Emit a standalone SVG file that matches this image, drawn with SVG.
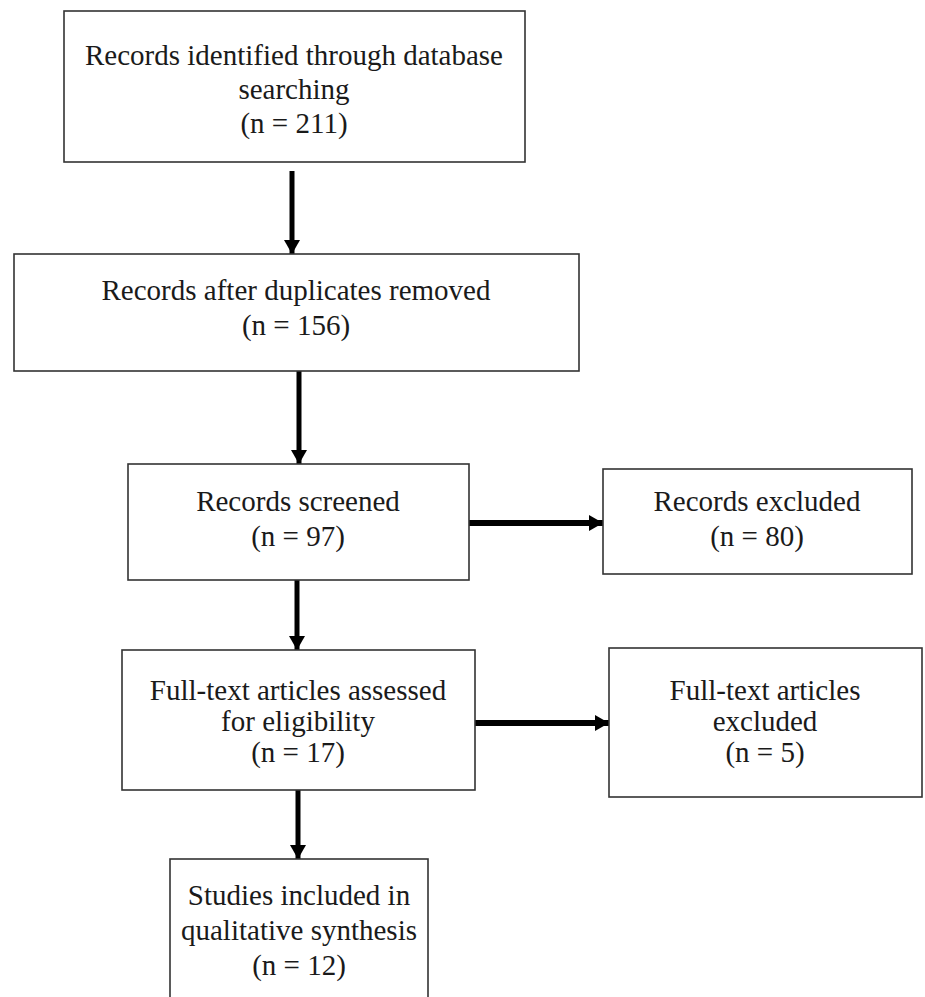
<svg xmlns="http://www.w3.org/2000/svg" width="925" height="997" viewBox="0 0 925 997">
<style>
.box{fill:#fff;stroke:#333;stroke-width:1.6}
.t{font-family:"Liberation Serif","Times New Roman",serif;font-size:29px;fill:#1a1a1a;text-anchor:middle}
.c{stroke:#000;stroke-width:5;fill:none}
.c2{stroke:#000;stroke-width:6;fill:none}
</style>
<defs>
<marker id="ah" viewBox="0 0 10 10" refX="10" refY="5" markerWidth="14" markerHeight="16" markerUnits="userSpaceOnUse" orient="auto" preserveAspectRatio="none">
<path d="M0,0 L10,5 L0,10 z" fill="#000"/>
</marker>
</defs>
<rect width="925" height="997" fill="#fff"/>
<g id="connectors">
<line class="c" x1="292" y1="171" x2="292" y2="254" marker-end="url(#ah)"/>
<line class="c" x1="299" y1="371" x2="299" y2="464" marker-end="url(#ah)"/>
<line class="c2" x1="469" y1="523" x2="603" y2="523" marker-end="url(#ah)"/>
<line class="c" x1="297" y1="580" x2="297" y2="650" marker-end="url(#ah)"/>
<line class="c2" x1="475" y1="723" x2="609" y2="723" marker-end="url(#ah)"/>
<line class="c" x1="298" y1="790" x2="298" y2="859" marker-end="url(#ah)"/>
</g>
<g id="identified">
<rect class="box" x="64" y="11" width="461" height="151"/>
<text class="t" x="294" y="65">Records identified through database</text>
<text class="t" x="294" y="99">searching</text>
<text class="t" x="294" y="133">(n = 211)</text>
</g>
<g id="duplicates">
<rect class="box" x="14" y="254" width="565" height="117"/>
<text class="t" x="296" y="300">Records after duplicates removed</text>
<text class="t" x="296" y="335">(n = 156)</text>
</g>
<g id="screened">
<rect class="box" x="128" y="464" width="341" height="116"/>
<text class="t" x="298" y="511">Records screened</text>
<text class="t" x="298" y="546">(n = 97)</text>
</g>
<g id="excluded">
<rect class="box" x="603" y="469" width="309" height="105"/>
<text class="t" x="757" y="511">Records excluded</text>
<text class="t" x="757" y="546">(n = 80)</text>
</g>
<g id="fulltext">
<rect class="box" x="122" y="650" width="353" height="140"/>
<text class="t" x="298" y="700">Full-text articles assessed</text>
<text class="t" x="298" y="731">for eligibility</text>
<text class="t" x="298" y="762">(n = 17)</text>
</g>
<g id="ftexcluded">
<rect class="box" x="609" y="648" width="313" height="149"/>
<text class="t" x="765" y="700">Full-text articles</text>
<text class="t" x="765" y="731">excluded</text>
<text class="t" x="765" y="762">(n = 5)</text>
</g>
<g id="included">
<rect class="box" x="170" y="859" width="258" height="150"/>
<text class="t" x="299" y="905">Studies included in</text>
<text class="t" x="299" y="940">qualitative synthesis</text>
<text class="t" x="299" y="975">(n = 12)</text>
</g>
</svg>
